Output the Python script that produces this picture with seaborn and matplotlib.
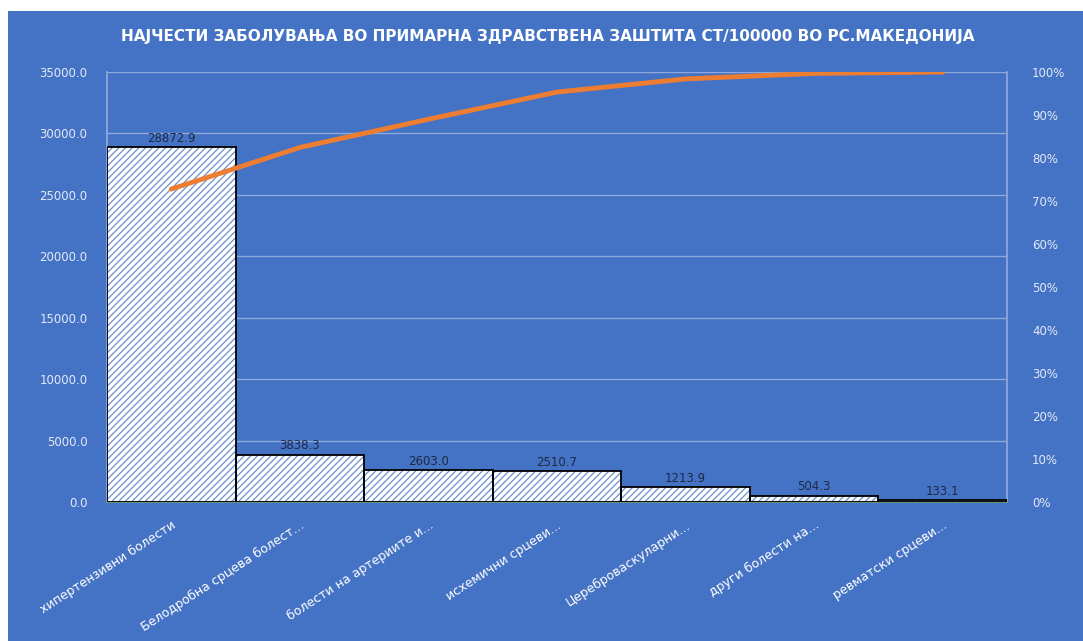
import numpy as np
import pandas as pd
import matplotlib
matplotlib.use('Agg')
import matplotlib.pyplot as plt
import matplotlib.patches as mpatches
from matplotlib.ticker import PercentFormatter
import seaborn as sns

# data
categories = ['хипертензивни болести', 'Белодробна срцева болест...',
              'болести на артериите и...', 'исхемични срцеви...',
              'Цереброваскуларни...', 'други болести на...',
              'ревматски срцеви...']
values = [28872.9, 3838.3, 2603.0, 2510.7, 1213.9, 504.3, 133.1]
title = 'НАЈЧЕСТИ ЗАБОЛУВАЊА ВО ПРИМАРНА ЗДРАВСТВЕНА ЗАШТИТА СТ/100000 ВО РС.МАКЕДОНИЈА'

bg = '#4472C4'
grid_c = '#8FA9DC'
tick_c = '#E3EAF7'

df = pd.DataFrame({'cat': categories, 'val': values})
df['pos'] = np.arange(len(df))
df['cum'] = df['val'].cumsum() / df['val'].sum()

sns.set_theme(style='white')
plt.rcParams['font.family'] = ['DejaVu Sans']
plt.rcParams['hatch.linewidth'] = 0.9

fig = plt.figure(figsize=(10.83, 6.41), dpi=100)
fig.patch.set_facecolor('white')
fig.patches.append(mpatches.Rectangle((8/1083, 0), 1, 1 - 11/641,
                                      transform=fig.transFigure,
                                      facecolor=bg, edgecolor='none', zorder=-10))

ax = fig.add_axes([107/1083, 1 - 502/641, 900/1083, 430/641])
ax.set_facecolor(bg)

sns.barplot(data=df, x='cat', y='val', ax=ax, color='white', width=1.0,
            edgecolor='#6B8FD2', linewidth=0, hatch='/////', saturation=1, zorder=2)
# black outlines on top of the hatched bars
for p in list(ax.patches):
    ax.add_patch(mpatches.Rectangle(p.get_xy(), p.get_width(), p.get_height(),
                                    fill=False, edgecolor='black', linewidth=1.3, zorder=3))

for x, v in zip(df['pos'], df['val']):
    ax.text(x, v + 200, f'{v:.1f}', ha='center', va='bottom', fontsize=8.5,
            color='#1E2A44', zorder=4)

ax.set_xlim(-0.5, len(df) - 0.5)
ax.set_ylim(0, 35000)
ax.set_yticks(np.arange(0, 35001, 5000))
ax.set_yticklabels([f'{t:.1f}' for t in np.arange(0, 35001, 5000)])
ax.yaxis.grid(True, color=grid_c, linewidth=1)
ax.set_axisbelow(True)
ax.set_xlabel('')
ax.set_ylabel('')
ax.tick_params(axis='y', colors=tick_c, labelsize=8.5, length=0, pad=14)
ax.tick_params(axis='x', colors='white', labelsize=9, length=0, pad=12)
plt.setp(ax.get_xticklabels(), rotation=33, ha='right', rotation_mode='anchor')

ax.spines['top'].set_visible(False)
ax.spines['left'].set_color(grid_c)
ax.spines['right'].set_color(grid_c)
ax.spines['bottom'].set_color('#6E9C70')
ax.spines['bottom'].set_linewidth(1.2)

ax2 = ax.twinx()
sns.lineplot(data=df, x='pos', y='cum', ax=ax2, color='#ED7D31', linewidth=3.5,
             solid_capstyle='round')
ax2.set_ylim(0, 1)
ax2.set_yticks(np.arange(0, 1.01, 0.1))
ax2.yaxis.set_major_formatter(PercentFormatter(1.0, decimals=0))
ax2.tick_params(axis='y', colors=tick_c, labelsize=8.5, length=0, pad=18)
ax2.set_ylabel('')
ax2.set_xlabel('')
for s in ax2.spines.values():
    s.set_visible(False)
ax.set_xlim(-0.5, len(df) - 0.5)

fig.text(548/1083, 1 - 36/641, title, ha='center', va='center', color='white',
         fontsize=11, fontweight='bold')

fig.savefig('out.png', dpi=100, facecolor=fig.get_facecolor())
